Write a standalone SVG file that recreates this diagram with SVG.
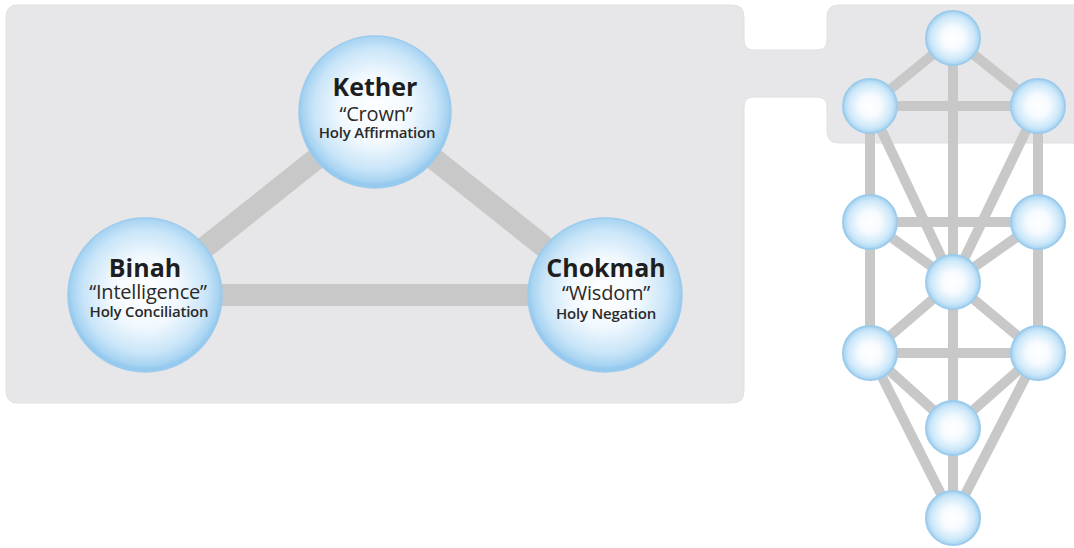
<svg xmlns="http://www.w3.org/2000/svg" width="1074" height="548" viewBox="0 0 1074 548">
<style>
.band{stroke:#c8c8c8;stroke-width:22;fill:none}
.path{stroke:#c8c8c8;stroke-width:10;fill:none}
.big{fill:url(#bigG);stroke:#9ccbec;stroke-width:1.5}
.small{fill:url(#smallG);stroke:#9ccbec;stroke-width:2}
.title{font-family:"Open Sans","DejaVu Sans",sans-serif;font-weight:700;font-size:25px;fill:#1e1e1e;text-anchor:middle}
.sub{font-family:"Open Sans","DejaVu Sans",sans-serif;font-weight:400;font-size:20px;fill:#2a2a2a;text-anchor:middle;letter-spacing:-0.2px}
.holy{font-family:"Open Sans","DejaVu Sans",sans-serif;font-weight:600;font-size:15px;fill:#2a2a2a;text-anchor:middle;letter-spacing:-0.2px}
</style>
<defs>
<radialGradient id="bigG" cx="50%" cy="48%" r="50%">
<stop offset="0" stop-color="#ffffff"/>
<stop offset="0.45" stop-color="#f2f9fe"/>
<stop offset="0.8" stop-color="#c9e5f8"/>
<stop offset="0.95" stop-color="#a8d4f2"/>
<stop offset="1" stop-color="#95c9ee"/>
</radialGradient>
<radialGradient id="smallG" cx="50%" cy="50%" r="50%">
<stop offset="0" stop-color="#ffffff"/>
<stop offset="0.4" stop-color="#f7fbff"/>
<stop offset="0.8" stop-color="#cde8f9"/>
<stop offset="1" stop-color="#a6d3f2"/>
</radialGradient>
</defs>
<rect width="1074" height="548" fill="#ffffff"/>
<path id="panel" d="M 18,5 H 732 Q 744,5 744,17 V 40 Q 744,50 754,50 H 817 Q 827,50 827,40 V 17 Q 827,5 839,5 H 1080 V 143 H 839 Q 827,143 827,131 V 107 Q 827,97 817,97 H 754 Q 744,97 744,107 V 391 Q 744,403 732,403 H 18 Q 6,403 6,391 V 17 Q 6,5 18,5 Z" fill="#e7e7e9" stroke="#e0e0e2" stroke-width="1"/>
<g id="connectors">
<line class="band" x1="145" y1="295" x2="375" y2="112"/>
<line class="band" x1="375" y1="112" x2="605" y2="295"/>
<line class="band" x1="145" y1="295" x2="605" y2="295"/>
<line class="path" x1="953" y1="38" x2="870" y2="106"/>
<line class="path" x1="953" y1="38" x2="1038" y2="106"/>
<line class="path" x1="953" y1="38" x2="953" y2="282"/>
<line class="path" x1="870" y1="106" x2="1038" y2="106"/>
<line class="path" x1="870" y1="106" x2="953" y2="282"/>
<line class="path" x1="1038" y1="106" x2="953" y2="282"/>
<line class="path" x1="870" y1="106" x2="870" y2="222"/>
<line class="path" x1="1038" y1="106" x2="1038" y2="222"/>
<line class="path" x1="870" y1="222" x2="1038" y2="222"/>
<line class="path" x1="870" y1="222" x2="953" y2="282"/>
<line class="path" x1="1038" y1="222" x2="953" y2="282"/>
<line class="path" x1="870" y1="222" x2="870" y2="353"/>
<line class="path" x1="1038" y1="222" x2="1038" y2="353"/>
<line class="path" x1="953" y1="282" x2="870" y2="353"/>
<line class="path" x1="953" y1="282" x2="1038" y2="353"/>
<line class="path" x1="953" y1="282" x2="953" y2="428"/>
<line class="path" x1="870" y1="353" x2="1038" y2="353"/>
<line class="path" x1="870" y1="353" x2="953" y2="428"/>
<line class="path" x1="1038" y1="353" x2="953" y2="428"/>
<line class="path" x1="870" y1="353" x2="953" y2="518"/>
<line class="path" x1="1038" y1="353" x2="953" y2="518"/>
<line class="path" x1="953" y1="428" x2="953" y2="518"/>
</g>
<g id="kether">
<circle class="big" cx="375" cy="112" r="76"/>
<text class="title" x="375" y="96">Kether</text>
<text class="sub" x="376" y="121">“Crown”</text>
<text class="holy" x="377" y="138">Holy Affirmation</text>
</g>
<g id="binah">
<circle class="big" cx="145" cy="295" r="77"/>
<text class="title" x="145" y="277">Binah</text>
<text class="sub" x="148" y="299">“Intelligence”</text>
<text class="holy" x="149" y="317">Holy Conciliation</text>
</g>
<g id="chokmah">
<circle class="big" cx="605" cy="295" r="77"/>
<text class="title" x="606" y="277">Chokmah</text>
<text class="sub" x="606" y="300">“Wisdom”</text>
<text class="holy" x="606" y="319">Holy Negation</text>
</g>
<g id="tree-kether"><circle class="small" cx="953" cy="38" r="27"/></g>
<g id="tree-binah"><circle class="small" cx="870" cy="106" r="27"/></g>
<g id="tree-chokmah"><circle class="small" cx="1038" cy="106" r="27"/></g>
<g id="tree-geburah"><circle class="small" cx="870" cy="222" r="27"/></g>
<g id="tree-chesed"><circle class="small" cx="1038" cy="222" r="27"/></g>
<g id="tree-tiphareth"><circle class="small" cx="953" cy="282" r="27"/></g>
<g id="tree-hod"><circle class="small" cx="870" cy="353" r="27"/></g>
<g id="tree-netzach"><circle class="small" cx="1038" cy="353" r="27"/></g>
<g id="tree-yesod"><circle class="small" cx="953" cy="428" r="27"/></g>
<g id="tree-malkuth"><circle class="small" cx="953" cy="518" r="27"/></g>
</svg>
